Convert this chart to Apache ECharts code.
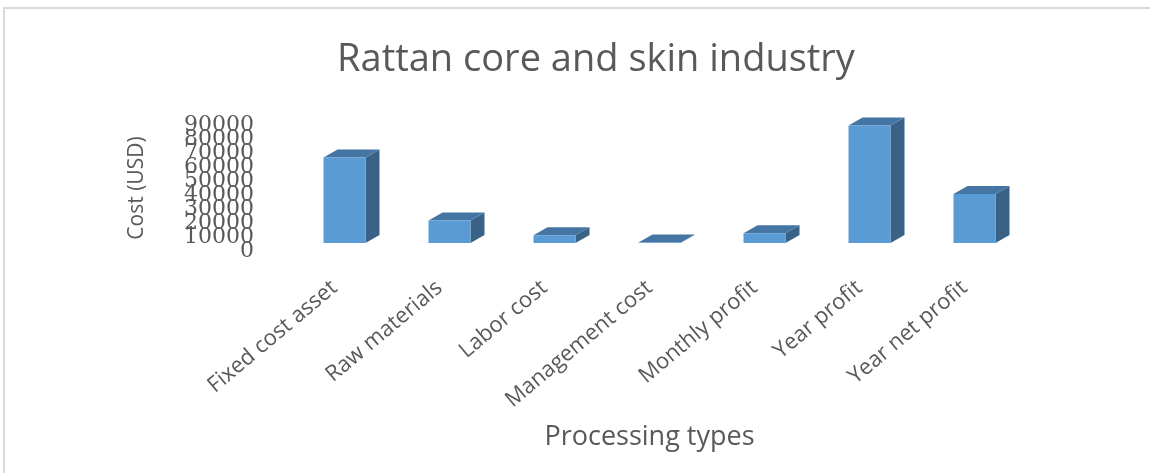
<!DOCTYPE html>
<html>
<head>
<meta charset="utf-8">
<style>
  html, body { margin: 0; padding: 0; background: #ffffff; }
  #chart { width: 1150px; height: 473px; }
</style>
<script src="https://cdn.jsdelivr.net/npm/echarts@6/dist/echarts.min.js"></script>
</head>
<body>
<div id="chart"></div>
<script>
// Rattan core and skin industry: cost and profit per processing type (USD)
const categories = ['Fixed cost asset', 'Raw materials', 'Labor cost', 'Management cost', 'Monthly profit', 'Year profit', 'Year net profit'];
const costs = [61000, 16000, 5500, 400, 7000, 84000, 35000];
const yTickLabels = ['0', '10000', '20000', '30000', '40000', '50000', '60000', '70000', '80000', '90000'];
const yRange = { min: 0, max: 90000, interval: 10000 };

const FRONT = '#5b9bd5';
const TOP = '#4576a3';
const SIDE = '#3a6287';
const DEPTH_X = 14;
const DEPTH_Y = 8;

// Draws one column as a front face plus a top and right-hand side face
function renderColumn(params, api) {
  const base = api.coord([api.value(0), 0]);
  const head = api.coord([api.value(0), api.value(1)]);
  const w = api.size([1, 0])[0] * 0.4;
  const x0 = base[0] - w / 2, x1 = base[0] + w / 2;
  const yb = base[1], yt = head[1];
  return {
    type: 'group',
    children: [
      { type: 'polygon', shape: { points: [[x1, yb], [x1 + DEPTH_X, yb - DEPTH_Y], [x1 + DEPTH_X, yt - DEPTH_Y], [x1, yt]] }, style: { fill: SIDE } },
      { type: 'polygon', shape: { points: [[x0, yt], [x0 + DEPTH_X, yt - DEPTH_Y], [x1 + DEPTH_X, yt - DEPTH_Y], [x1, yt]] }, style: { fill: TOP } },
      { type: 'rect', shape: { x: x0, y: yt, width: w, height: yb - yt }, style: { fill: FRONT } }
    ]
  };
}

const chart = echarts.init(document.getElementById('chart'), null, { renderer: 'canvas' });
chart.setOption({
  animation: false,
  backgroundColor: '#ffffff',
  graphic: [{
    type: 'rect',
    shape: { x: 4, y: 8, width: 1300, height: 600 },
    style: { fill: 'none', stroke: '#d9d9d9', lineWidth: 2 },
    silent: true
  }],
  title: {
    text: 'Rattan core and skin industry',
    left: 591, top: 36, textAlign: 'center',
    textStyle: { fontFamily: 'Open Sans', fontSize: 38, fontWeight: 'normal', color: '#595959' }
  },
  grid: [
    // columns
    { left: 292, right: 123, top: 117, bottom: 230 },
    // value labels, sitting a little lower than the column floor
    { left: 262, right: 123, top: 125, bottom: 222 },
    // category labels and axis title
    { left: 282, right: 133, top: 117, bottom: 230 }
  ],
  xAxis: [{
    gridIndex: 0, type: 'category', show: false, data: categories
  }, {
    gridIndex: 1, type: 'category', show: false, data: categories
  }, {
    gridIndex: 2,
    type: 'category',
    data: categories,
    name: 'Processing types',
    nameLocation: 'middle',
    nameGap: 181,
    nameTextStyle: { fontFamily: 'Open Sans', fontSize: 27, color: '#595959' },
    axisLine: { show: false },
    axisTick: { show: false },
    axisLabel: { rotate: 40, margin: 42, interval: 0, fontFamily: 'Open Sans', fontSize: 22, color: '#595959' }
  }],
  yAxis: [{
    gridIndex: 0, type: 'value', show: false,
    min: yRange.min, max: yRange.max, interval: yRange.interval
  }, {
    // evenly spaced tick labels 0 … 90000, every one drawn even where they crowd
    gridIndex: 1, type: 'category',
    data: yTickLabels,
    boundaryGap: false,
    name: 'Cost (USD)',
    nameLocation: 'middle',
    nameGap: 114,
    nameRotate: 90,
    nameTextStyle: { fontFamily: 'Open Sans', fontSize: 21, color: '#595959' },
    axisLine: { show: false },
    axisTick: { show: false },
    splitLine: { show: false },
    axisLabel: {
      interval: 0, margin: 8, fontFamily: 'DejaVu Serif', fontSize: 22, color: '#595959',
      hideOverlap: false
    }
  }, {
    gridIndex: 2, type: 'value', show: false,
    min: yRange.min, max: yRange.max, interval: yRange.interval
  }],
  series: [{
    type: 'custom',
    xAxisIndex: 0,
    yAxisIndex: 0,
    renderItem: renderColumn,
    data: costs.map((v, i) => [i, v])
  }]
});
</script>
</body>
</html>
